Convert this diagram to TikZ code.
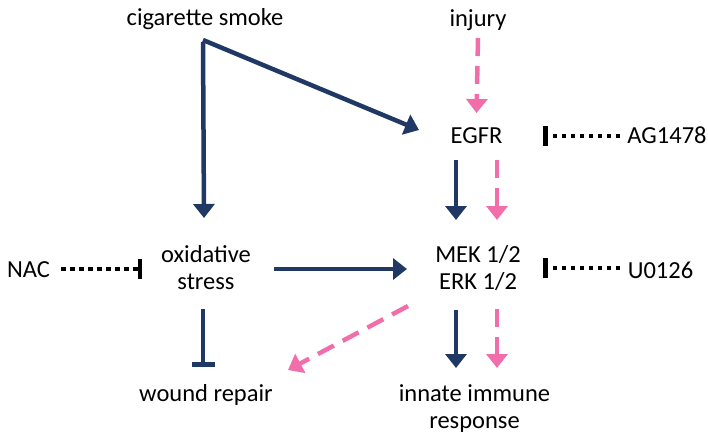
\documentclass[tikz,border=0pt]{standalone}
\usepackage{fontspec}
\setmainfont{Carlito}
\usetikzlibrary{arrows.meta}
\definecolor{navyc}{RGB}{32,56,100}
\definecolor{pinkc}{RGB}{242,110,170}
\tikzset{
  lbl/.style={inner sep=0pt, outer sep=0pt, anchor=base, align=center,
    font=\fontsize{24.5pt}{27pt}\selectfont},
  navyarrow/.style={draw=navyc, line width=4.5pt, -{Triangle[length=14pt,width=21pt]}},
  pinkarrow/.style={draw=pinkc, line width=4.5pt, dash pattern=on 18pt off 10pt,
    -{Triangle[length=14pt,width=21pt]}},
  navyblock/.style={draw=navyc, line width=4.5pt, -{Bar[width=23pt,line width=5pt]}},
  dotblock/.style={draw=black, line width=4pt, dash pattern=on 4.5pt off 4.5pt,
    -{Bar[width=20pt,line width=4.5pt]}},
}
\begin{document}
\begin{tikzpicture}[x=1pt,y=-1pt]
\useasboundingbox (0,0) rectangle (708,438);
% nodes (placed by baseline of last line)
\node[lbl] (cig) at (205,26) {cigarette smoke};
\node[lbl] (inj) at (478,26.5) {injury};
\node[lbl] (egfr) at (476.5,143.5) {EGFR};
\node[lbl] (ag) at (667,143.5) {AG1478};
\node[lbl] (nac) at (28.5,277.3) {NAC};
\node[lbl] (u0) at (660.5,278) {U0126};
\node[lbl] (ox) at (206,289.3) {oxidative\\stress};
\node[lbl] (mek) at (478,289.3) {MEK 1/2\\ERK 1/2};
\node[lbl] (wound) at (206,401.7) {wound repair};
\node[lbl] (innate) at (474.5,428.7) {innate immune\\response};
\coordinate (corner) at ([shift={(-2,14)}]cig.base);
% connectors
\draw[navyarrow] (corner) -- ([shift={(-57.5,-13.5)}]egfr.base);
\draw[navyarrow] ([yshift=-2pt]corner) -- ([shift={(-2,-71.3)}]ox.base);
\draw[pinkarrow] ([shift={(0,11.5)}]inj.base) -- ([shift={(0,-30.5)}]egfr.base);
\draw[navyarrow] ([shift={(-20.5,16.5)}]egfr.base) -- ([shift={(-22,-69.3)}]mek.base);
\draw[pinkarrow] ([shift={(20.5,16.5)}]egfr.base) -- ([shift={(19,-69.3)}]mek.base);
\draw[navyarrow] ([shift={(68,-20.3)}]ox.base) -- ([shift={(-71,-20.3)}]mek.base);
\draw[navyarrow] ([shift={(-22,20.7)}]mek.base) -- ([shift={(-18.5,-60.7)}]innate.base);
\draw[pinkarrow] ([shift={(19,19.7)}]mek.base) -- ([shift={(22.5,-60.7)}]innate.base);
\draw[navyblock] ([shift={(-3,19.7)}]ox.base) -- ([shift={(-3,-34.7)}]wound.base);
\draw[pinkarrow] ([shift={(-70,16.7)}]mek.base) -- ([shift={(82,-31.7)}]wound.base);
\draw[dotblock] ([shift={(32.5,-8.3)}]nac.base) -- ([shift={(-64,-20.3)}]ox.base);
\draw[dotblock] ([shift={(-47,-7.5)}]ag.base) -- ([shift={(66.5,-7.5)}]egfr.base);
\draw[dotblock] ([shift={(-40.5,-9.7)}]u0.base) -- ([shift={(65,-21)}]mek.base);
\end{tikzpicture}
\end{document}
